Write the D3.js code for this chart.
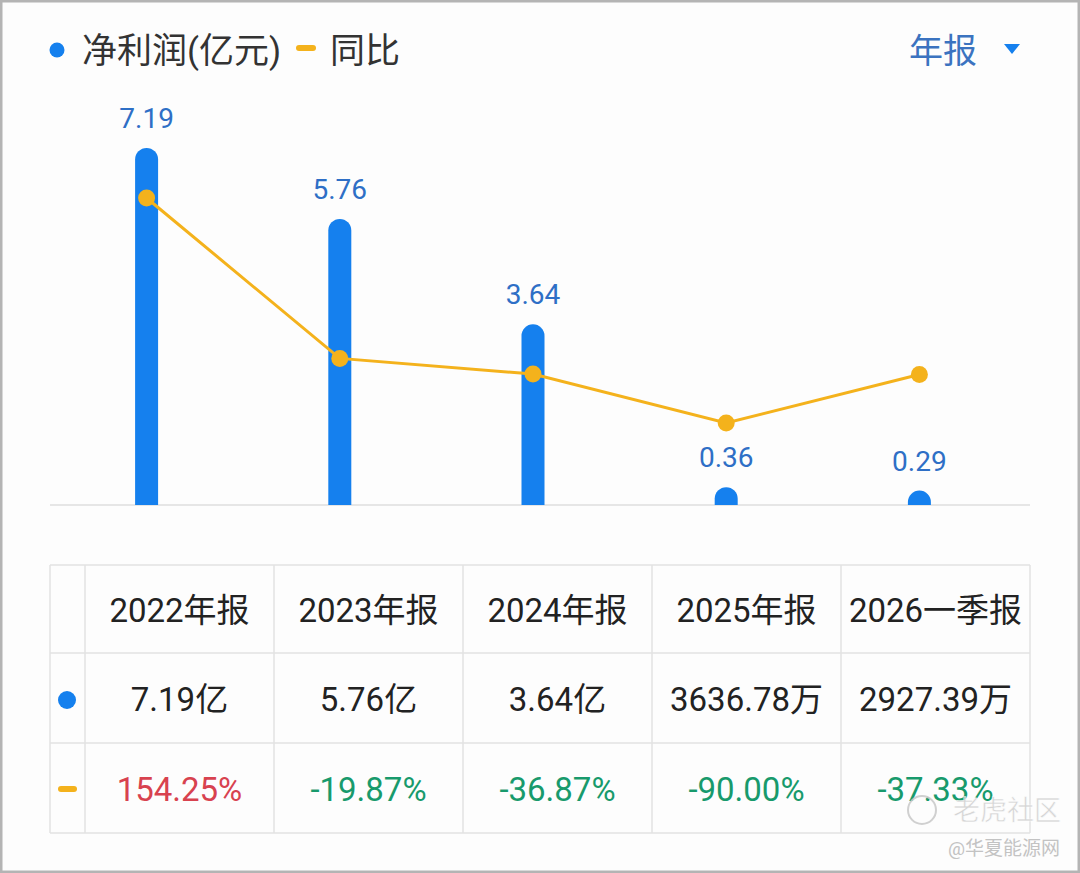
<!DOCTYPE html>
<html>
<head>
<meta charset="utf-8">
<script src="https://cdn.jsdelivr.net/npm/d3@7"></script>
<style>
  html, body { margin: 0; padding: 0; background: #fff; }
  svg { display: block; font-family: Roboto, "Noto Sans CJK SC", sans-serif; }
</style>
</head>
<body>
<div id="svganchor"></div>
<script>
// data
const periods = ["2022年报", "2023年报", "2024年报", "2025年报", "2026一季报"];
const profit = [7.19, 5.76, 3.64, 0.36, 0.29];            // 亿元
const profitLabels = ["7.19", "5.76", "3.64", "0.36", "0.29"];
const profitCells = ["7.19亿", "5.76亿", "3.64亿", "3636.78万", "2927.39万"];
const yoy = [154.25, -19.87, -36.87, -90.00, -37.33];     // %
const yoyCells = ["154.25%", "-19.87%", "-36.87%", "-90.00%", "-37.33%"];

const width = 1080;
const height = 873;

const BLUE = "#1580ee";
const LABEL_BLUE = "#2e6fc6";
const ORANGE = "#f4b21c";
const RED = "#d8424f";
const GREEN = "#189a6c";
const GRID = "#e2e2e2";

const svg = d3.select("#svganchor")
  .append("svg")
  .attr("width", width)
  .attr("height", height);

// frame
svg.append("rect")
  .attr("x", 1).attr("y", 1)
  .attr("width", width - 2).attr("height", height - 2)
  .attr("fill", "#fdfdfd")
  .attr("stroke", "#b4b4b4")
  .attr("stroke-width", 3);

/* ---------- legend ---------- */
const legend = svg.append("g");
legend.append("circle").attr("cx", 57).attr("cy", 50).attr("r", 7.5).attr("fill", BLUE);
legend.append("text").attr("x", 82).attr("y", 63)
  .attr("font-size", 35).attr("fill", "#333").text("净利润(亿元)");
legend.append("rect").attr("x", 296).attr("y", 45).attr("width", 20).attr("height", 6)
  .attr("rx", 3).attr("fill", ORANGE);
legend.append("text").attr("x", 330).attr("y", 63)
  .attr("font-size", 35).attr("fill", "#333").text("同比");

svg.append("text").attr("x", 977).attr("y", 63).attr("text-anchor", "end")
  .attr("font-size", 34).attr("fill", "#3b73c0").text("年报");
svg.append("path").attr("d", "M1004,44 L1020,44 L1012,54 Z").attr("fill", BLUE);

/* ---------- chart ---------- */
const x = d3.scaleBand().domain(periods).range([50, 1016]);
const y = d3.scaleLinear().domain([0, 7.19]).range([505, 148]);
const y2 = d3.scaleLinear().domain([-90, 154.25]).range([423, 198]);
const barW = 23;

svg.append("line")
  .attr("x1", 50).attr("x2", 1030)
  .attr("y1", y(0)).attr("y2", y(0))
  .attr("stroke", "#e6e6e6").attr("stroke-width", 2);

const cx = (d) => x(d) + x.bandwidth() / 2;

// rounded-top bars
svg.append("g")
  .selectAll("path")
  .data(periods)
  .join("path")
  .attr("fill", BLUE)
  .attr("d", (d, i) => {
    const x0 = cx(d) - barW / 2, x1 = cx(d) + barW / 2;
    const top = y(profit[i]), base = y(0), r = barW / 2;
    return `M${x0},${base} L${x0},${top + r} A${r},${r} 0 0 1 ${x1},${top + r} L${x1},${base} Z`;
  });

svg.append("g")
  .selectAll("text")
  .data(periods)
  .join("text")
  .attr("x", cx)
  .attr("y", (d, i) => y(profit[i]) - 20)
  .attr("text-anchor", "middle")
  .attr("font-size", 28)
  .attr("fill", LABEL_BLUE)
  .text((d, i) => profitLabels[i]);

// yoy line
const line = d3.line()
  .x((d, i) => cx(periods[i]))
  .y((d) => y2(d));

svg.append("path")
  .datum(yoy)
  .attr("fill", "none")
  .attr("stroke", ORANGE)
  .attr("stroke-width", 3)
  .attr("d", line);

svg.append("g")
  .selectAll("circle")
  .data(yoy)
  .join("circle")
  .attr("cx", (d, i) => cx(periods[i]))
  .attr("cy", (d) => y2(d))
  .attr("r", 8.5)
  .attr("fill", ORANGE);

/* ---------- table ---------- */
const tx = d3.scaleBand().domain(periods).range([85, 1030]);
const rowEdges = [565, 653, 743, 833];
const table = svg.append("g");

table.selectAll("line.h")
  .data(rowEdges)
  .join("line")
  .attr("class", "h")
  .attr("x1", 50).attr("x2", 1030)
  .attr("y1", (d) => d).attr("y2", (d) => d)
  .attr("stroke", GRID).attr("stroke-width", 1.5);

table.selectAll("line.v")
  .data([50, 85].concat(periods.map((d) => tx(d) + tx.bandwidth())))
  .join("line")
  .attr("class", "v")
  .attr("x1", (d) => d).attr("x2", (d) => d)
  .attr("y1", 565).attr("y2", 833)
  .attr("stroke", GRID).attr("stroke-width", 1.5);

const tcx = (d) => tx(d) + tx.bandwidth() / 2;

table.append("g").selectAll("text")
  .data(periods)
  .join("text")
  .attr("x", tcx).attr("y", 622)
  .attr("text-anchor", "middle")
  .attr("font-size", 33).attr("fill", "#222")
  .text((d) => d);

table.append("g").selectAll("text")
  .data(periods)
  .join("text")
  .attr("x", tcx).attr("y", 711)
  .attr("text-anchor", "middle")
  .attr("font-size", 33).attr("fill", "#222")
  .text((d, i) => profitCells[i]);

table.append("g").selectAll("text")
  .data(periods)
  .join("text")
  .attr("x", tcx).attr("y", 801)
  .attr("text-anchor", "middle")
  .attr("font-size", 33)
  .attr("fill", (d, i) => (yoy[i] >= 0 ? RED : GREEN))
  .text((d, i) => yoyCells[i]);

table.append("circle").attr("cx", 67).attr("cy", 700).attr("r", 9).attr("fill", BLUE);
table.append("rect").attr("x", 58).attr("y", 786).attr("width", 19).attr("height", 6)
  .attr("rx", 3).attr("fill", ORANGE);

/* ---------- watermark ---------- */
const wm = svg.append("g").attr("opacity", 0.85);
wm.append("circle").attr("cx", 922).attr("cy", 810).attr("r", 14)
  .attr("fill", "none").attr("stroke", "#c9c9c9").attr("stroke-width", 2);
wm.append("text").attr("x", 953).attr("y", 820)
  .attr("font-size", 27).attr("fill", "#cfcfcf")
  .attr("stroke", "#fff").attr("stroke-width", 0.5)
  .text("老虎社区");
wm.append("text").attr("x", 948).attr("y", 855)
  .attr("font-size", 19).attr("fill", "#b9b9b9")
  .text("@华夏能源网");
</script>
</body>
</html>
